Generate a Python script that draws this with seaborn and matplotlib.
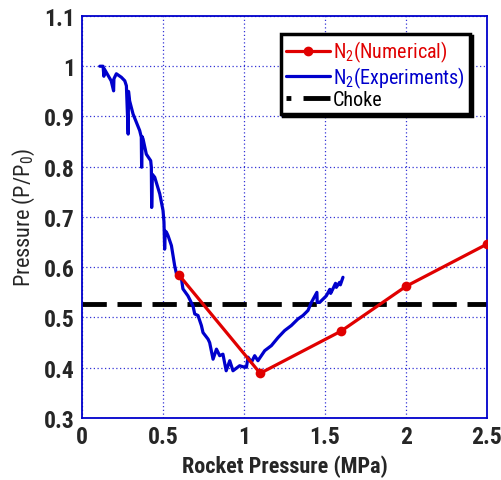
import matplotlib
matplotlib.use("Agg")
import matplotlib.pyplot as plt
import matplotlib.font_manager as fm
import seaborn as sns
import pandas as pd
from matplotlib.lines import Line2D

# Numerical (red)
num_x = [0.6, 1.1, 1.6, 2.0, 2.5]
num_y = [0.584, 0.389, 0.473, 0.562, 0.646]

# Experiments (blue)
exp_x = [0.11, 0.13, 0.135, 0.137, 0.18, 0.195, 0.197, 0.212, 0.243, 0.264,
         0.274, 0.285, 0.287, 0.294, 0.315, 0.356, 0.366, 0.368, 0.371, 0.377,
         0.397, 0.424, 0.428, 0.43, 0.434, 0.449, 0.48, 0.5, 0.506, 0.51,
         0.514, 0.521, 0.531, 0.552, 0.572, 0.583, 0.614, 0.623, 0.654, 0.685,
         0.696, 0.716, 0.737, 0.747, 0.778, 0.788, 0.809, 0.83, 0.85, 0.87,
         0.89, 0.912, 0.932, 0.973, 1.004, 1.015, 1.025, 1.046, 1.066, 1.086,
         1.128, 1.169, 1.21, 1.251, 1.292, 1.333, 1.364, 1.395, 1.416, 1.45,
         1.452, 1.467, 1.508, 1.53, 1.535, 1.549, 1.565, 1.57, 1.59, 1.595, 1.611]
exp_y = [1.0, 1.0, 0.98, 0.995, 0.971, 0.951, 0.975, 0.985, 0.978, 0.971,
         0.961, 0.865, 0.95, 0.931, 0.905, 0.872, 0.859, 0.799, 0.86, 0.855,
         0.825, 0.812, 0.799, 0.719, 0.785, 0.779, 0.746, 0.713, 0.69, 0.636,
         0.672, 0.67, 0.663, 0.643, 0.603, 0.587, 0.577, 0.557, 0.543, 0.523,
         0.507, 0.504, 0.484, 0.47, 0.457, 0.45, 0.417, 0.437, 0.424, 0.427,
         0.394, 0.414, 0.394, 0.404, 0.401, 0.401, 0.421, 0.411, 0.424, 0.414,
         0.434, 0.444, 0.46, 0.474, 0.484, 0.497, 0.504, 0.514, 0.53, 0.55,
         0.53, 0.53, 0.543, 0.556, 0.548, 0.557, 0.568, 0.56, 0.57, 0.565, 0.58]

choke_y = 0.527

x_ticks = [0, 0.5, 1, 1.5, 2, 2.5]
x_tick_labels = ["0", "0.5", "1", "1.5", "2", "2.5"]
y_ticks = [0.3, 0.4, 0.5, 0.6, 0.7, 0.8, 0.9, 1.0, 1.1]
y_tick_labels = ["0.3", "0.4", "0.5", "0.6", "0.7", "0.8", "0.9", "1", "1.1"]

labels = [r"N$\mathregular{_2}$(Numerical)", r"N$\mathregular{_2}$(Experiments)", "Choke"]

sns.set_theme(style="white")

# choose a narrow font if one is installed
names = {f.name for f in fm.fontManager.ttflist}
narrow = None
for cand in ["Liberation Sans Narrow", "Roboto Condensed", "Open Sans Condensed",
             "DejaVu Sans Condensed", "Noto Sans Condensed"]:
    if cand in names:
        narrow = cand
        break
stretch = "normal"
if narrow is None:
    narrow = "DejaVu Sans"
    stretch = "condensed"
plt.rcParams["font.family"] = [narrow, "DejaVu Sans"]
plt.rcParams["font.stretch"] = stretch
plt.rcParams["mathtext.default"] = "regular"

RED = "#e00000"
BLUE = "#0000cc"

fig = plt.figure(figsize=(5.01, 4.81), dpi=100)
ax = fig.add_axes([0.1637, 0.1289, 0.8083, 0.8358])

df_exp = pd.DataFrame({"x": exp_x, "y": exp_y})
df_num = pd.DataFrame({"x": num_x, "y": num_y})

ax.axhline(choke_y, color="black", lw=3.5, dashes=(5, 2.2), zorder=2)
sns.lineplot(data=df_exp, x="x", y="y", ax=ax, color=BLUE, lw=2.3,
             estimator=None, sort=False, zorder=3)
sns.lineplot(data=df_num, x="x", y="y", ax=ax, color=RED, lw=2.3,
             marker="o", markersize=7, markeredgewidth=0, estimator=None,
             sort=False, zorder=4)

tfs = 17
ax.set_xlim(0, 2.5)
ax.set_ylim(0.3, 1.1)
ax.set_xticks(x_ticks)
ax.set_xticklabels(x_tick_labels, fontsize=tfs, fontweight="heavy")
ax.set_yticks(y_ticks)
ax.set_yticklabels(y_tick_labels, fontsize=tfs, fontweight="heavy")
ax.tick_params(direction="in", color=BLUE, length=4, width=1, pad=5)
ax.grid(True, color=BLUE, ls=(0, (1, 2)), lw=0.9, alpha=0.8)
for s in ax.spines.values():
    s.set_color(BLUE)
    s.set_linewidth(1.3)

ax.set_xlabel("Rocket Pressure (MPa)", fontsize=16, fontweight="bold", labelpad=5)
ax.set_ylabel(r"Pressure (P/P$\mathregular{_0}$)", fontsize=16, labelpad=5)

handles = [
    Line2D([], [], color=RED, lw=2.3, marker="o", markersize=6),
    Line2D([], [], color=BLUE, lw=2.3),
    Line2D([], [], color="black", lw=3.5, dashes=[1.0, 2.5, 6, 2]),
]
leg = ax.legend(handles, labels, loc="upper right", bbox_to_anchor=(0.958, 0.955),
                fontsize=14.5, frameon=True, fancybox=False,
                handlelength=2.2, handletextpad=0.15, labelspacing=0.0,
                borderpad=0.25, borderaxespad=0,
                shadow={"color": "black", "alpha": 1, "ox": 1.5, "oy": -1.5})
leg.get_frame().set_edgecolor("black")
leg.get_frame().set_linewidth(2.5)
for t, c in zip(leg.get_texts(), [RED, BLUE, "black"]):
    t.set_color(c)

fig.savefig("out.png", dpi=100)
